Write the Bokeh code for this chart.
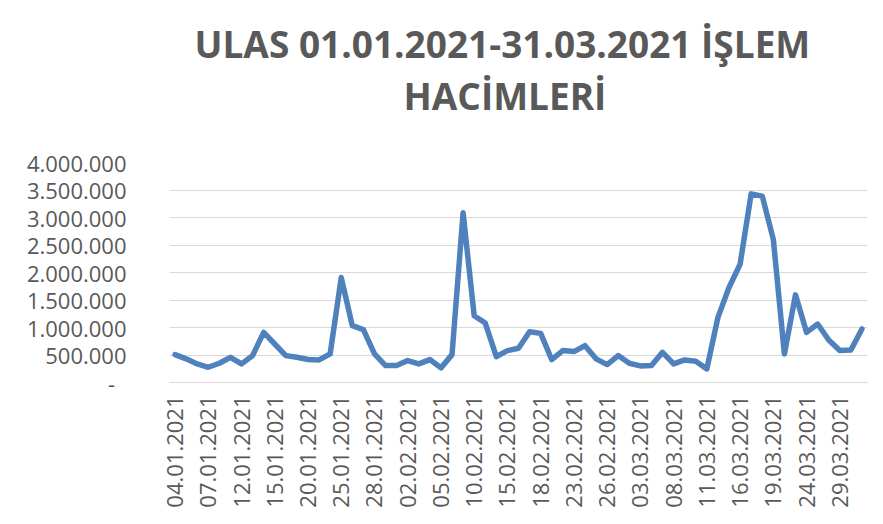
from bokeh.plotting import figure
from bokeh.models import Title, FixedTicker, Range1d
from bokeh.embed import file_html
from bokeh.resources import INLINE

title_line1 = "ULAS 01.01.2021-31.03.2021 İŞLEM"
title_line2 = "HACİMLERİ"

dates = [
    "04.01.2021", "05.01.2021", "06.01.2021", "07.01.2021", "08.01.2021",
    "11.01.2021", "12.01.2021", "13.01.2021", "14.01.2021", "15.01.2021",
    "18.01.2021", "19.01.2021", "20.01.2021", "21.01.2021", "22.01.2021",
    "25.01.2021", "26.01.2021", "27.01.2021", "28.01.2021", "29.01.2021",
    "01.02.2021", "02.02.2021", "03.02.2021", "04.02.2021", "05.02.2021",
    "08.02.2021", "09.02.2021", "10.02.2021", "11.02.2021", "12.02.2021",
    "15.02.2021", "16.02.2021", "17.02.2021", "18.02.2021", "19.02.2021",
    "22.02.2021", "23.02.2021", "24.02.2021", "25.02.2021", "26.02.2021",
    "01.03.2021", "02.03.2021", "03.03.2021", "04.03.2021", "05.03.2021",
    "08.03.2021", "09.03.2021", "10.03.2021", "11.03.2021", "12.03.2021",
    "15.03.2021", "16.03.2021", "17.03.2021", "18.03.2021", "19.03.2021",
    "22.03.2021", "23.03.2021", "24.03.2021", "25.03.2021", "26.03.2021",
    "29.03.2021", "30.03.2021", "31.03.2021",
]

volumes = [
    507000, 430000, 338000, 277000, 350000,
    458000, 338000, 489000, 911000, 700000,
    489000, 458000, 417000, 410000, 520000,
    1908000, 1033000, 960000, 520000, 308000,
    308000, 398000, 338000, 417000, 266000,
    507000, 3085000, 1214000, 1081000, 471000,
    580000, 622000, 924000, 893000, 417000,
    580000, 562000, 670000, 430000, 326000,
    489000, 350000, 302000, 308000, 549000,
    338000, 410000, 386000, 247000, 1184000,
    1727000, 2150000, 3430000, 3388000, 2603000,
    520000, 1594000, 911000, 1063000, 773000,
    580000, 592000, 973000,
]

y_ticks = [0, 500000, 1000000, 1500000, 2000000, 2500000, 3000000, 3500000, 4000000]
y_tick_labels = ["-\u00a0\u00a0", "500.000", "1.000.000", "1.500.000", "2.000.000",
                 "2.500.000", "3.000.000", "3.500.000", "4.000.000"]

label_step = 3

TEXT = "#595959"
FONT = "Open Sans"

x = list(range(len(volumes)))

p = figure(width=875, height=516, output_backend="svg", toolbar_location=None,
           x_range=Range1d(-0.5, len(volumes) - 0.5),
           y_range=Range1d(y_ticks[0], y_ticks[-1]),
           min_border_left=169, min_border_right=8, min_border_top=162,
           min_border_bottom=134)
p.title = None
p.outline_line_color = None
p.background_fill_color = "white"
p.border_fill_color = "white"

t2 = Title(text=title_line2, align="left", text_font=FONT, text_font_size="37px",
           text_font_style="bold", text_color=TEXT, standoff=84, offset=234)
t1 = Title(text=title_line1, align="left", text_font=FONT, text_font_size="37px",
           text_font_style="bold", text_color=TEXT, standoff=-87, offset=25)
p.add_layout(t2, "above")
p.add_layout(t1, "above")

p.line(x, volumes, line_color="#4f81bd", line_width=5.5,
       line_join="round", line_cap="round")

# y axis
p.yaxis.ticker = FixedTicker(ticks=y_ticks)
p.yaxis.major_label_overrides = {v: l for v, l in zip(y_ticks, y_tick_labels)}
p.yaxis.axis_line_color = None
p.yaxis.major_tick_line_color = None
p.yaxis.minor_tick_line_color = None
p.yaxis.major_tick_out = 0
p.yaxis.major_tick_in = 0
p.yaxis.major_label_standoff = 43
p.yaxis.major_label_text_font = FONT
p.yaxis.major_label_text_font_size = "22px"
p.yaxis.major_label_text_color = TEXT

# x axis
xt = x[::label_step]
p.xaxis.ticker = FixedTicker(ticks=xt)
p.xaxis.major_label_overrides = {i: dates[i] for i in xt}
p.xaxis.major_label_orientation = 1.5707963267948966
p.xaxis.axis_line_color = "#d9d9d9"
p.xaxis.axis_line_width = 1
p.xaxis.major_tick_line_color = None
p.xaxis.minor_tick_line_color = None
p.xaxis.major_tick_out = 0
p.xaxis.major_tick_in = 0
p.xaxis.major_label_standoff = 13
p.xaxis.major_label_text_font = FONT
p.xaxis.major_label_text_font_size = "22px"
p.xaxis.major_label_text_color = TEXT

p.xgrid.grid_line_color = None
p.ygrid.grid_line_color = "#d9d9d9"
p.ygrid.grid_line_width = 1

open("out.html", "w").write(file_html(p, INLINE))
